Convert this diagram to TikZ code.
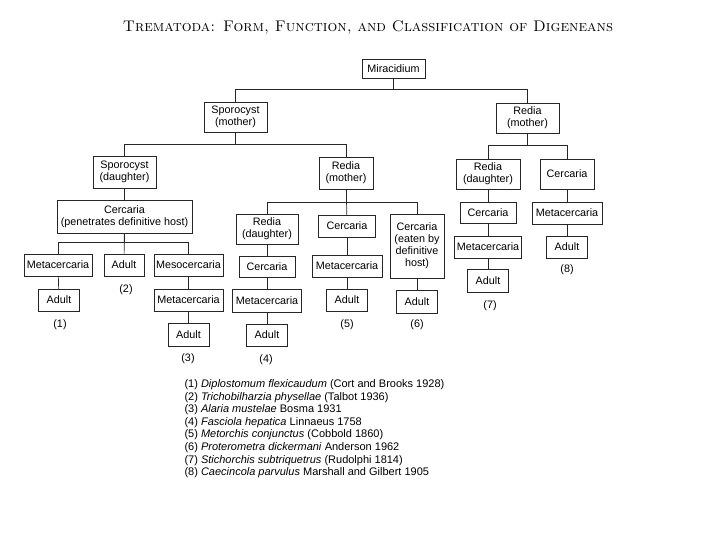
\documentclass[tikz,border=0pt]{standalone}
\usepackage{fontspec}
\setsansfont{Liberation Sans}
\usepackage{tikz}
\usepackage{xcolor}

\begin{document}
\begin{tikzpicture}[x=1pt,y=-1pt,line cap=round,
  box/.style={draw=black!85,line width=0.7pt,fill=white,inner sep=1pt,align=center,font=\sffamily\fontsize{10.8}{12}\selectfont},
  tag/.style={font=\sffamily\fontsize{10.8}{12}\selectfont},
  link/.style={black!85,line width=0.7pt}]
\useasboundingbox (0,0) rectangle (720,540);
\node[font=\fontsize{15.4}{17}\selectfont] (title) at (368,28) {\textsc{Trematoda: Form, Function, and Classification of Digeneans}};
\node[box,minimum width=63,minimum height=19] (mir) at (393.5,68.5) {Miracidium};
\node[box,minimum width=63,minimum height=30] (spm) at (235.5,117) {Sporocyst\\(mother)};
\node[box,minimum width=63,minimum height=30] (rdm) at (527.5,118) {Redia\\(mother)};
\node[box,minimum width=63,minimum height=32] (spd) at (124.5,172) {Sporocyst\\(daughter)};
\node[box,minimum width=54,minimum height=32] (rdmb) at (346,173) {Redia\\(mother)};
\node[box,minimum width=64,minimum height=30] (rdd) at (488,174) {Redia\\(daughter)};
\node[box,minimum width=54,minimum height=30] (cerh) at (567,174) {Cercaria};
\node[box,minimum width=135,minimum height=33] (cerp) at (124.5,216.5) {Cercaria\\(penetrates definitive host)};
\node[box,minimum width=68,minimum height=22] (metb) at (58,265) {Metacercaria};
\node[box,minimum width=40,minimum height=22] (adb) at (124,265) {Adult};
\node[box,minimum width=69,minimum height=22] (meso) at (188.5,265) {Mesocercaria};
\node[box,minimum width=41,minimum height=22] (ada) at (59,300) {Adult};
\node[box,minimum width=69,minimum height=22] (metc) at (188.5,300) {Metacercaria};
\node[box,minimum width=41,minimum height=23] (adc) at (188.5,334.5) {Adult};
\node[box,minimum width=62,minimum height=30] (rddd) at (267,229) {Redia\\(daughter)};
\node[box,minimum width=57,minimum height=22] (cere) at (347,226) {Cercaria};
\node[box,minimum width=54,minimum height=64] (cerf) at (417,246) {Cercaria\\(eaten by\\definitive\\host)};
\node[box,minimum width=56,minimum height=21] (cerd) at (267,266.5) {Cercaria};
\node[box,minimum width=70,minimum height=22] (mete) at (347,266) {Metacercaria};
\node[box,minimum width=69,minimum height=23] (metd) at (267,300.5) {Metacercaria};
\node[box,minimum width=41,minimum height=22] (add) at (267,335) {Adult};
\node[box,minimum width=41,minimum height=22] (ade) at (347,300) {Adult};
\node[box,minimum width=41,minimum height=23] (adf) at (417,301.5) {Adult};
\node[box,minimum width=56,minimum height=21] (cerg) at (488,212.5) {Cercaria};
\node[box,minimum width=67,minimum height=22] (metg) at (488,247) {Metacercaria};
\node[box,minimum width=41,minimum height=23] (adg) at (488,280.5) {Adult};
\node[box,minimum width=70,minimum height=22] (meth) at (567,213) {Metacercaria};
\node[box,minimum width=41,minimum height=22] (adh) at (567,247) {Adult};
\node[tag] (na) at (60,325) {(1)};
\node[tag] (nb) at (126,290) {(2)};
\node[tag] (nc) at (188,359) {(3)};
\node[tag] (nd) at (266,360) {(4)};
\node[tag] (ne) at (347,325) {(5)};
\node[tag] (nf) at (417,325) {(6)};
\node[tag] (ng) at (490,306) {(7)};
\node[tag] (nh) at (567,270) {(8)};
\draw[link] (mir.south) -- ++(0,11) -| (spm.north);
\draw[link] (mir.south) -- ++(0,11) -| (rdm.north);
\draw[link] (spm.south) -- ++(0,12) -| (spd.north);
\draw[link] (spm.south) -- ++(0,12) -| (rdmb.north);
\draw[link] (rdm.south) -- ++(0,12) -| (rdd.north);
\draw[link] (rdm.south) -- ++(0,12) -| (cerh.north);
\draw[link] (spd) -- (cerp);
\draw[link] (cerp.south) -- ++(0,9) -| (metb.north);
\draw[link] (cerp.south) -- ++(0,9) -| (meso.north);
\draw[link] (cerp) -- (adb);
\draw[link] (metb) -- (ada);
\draw[link] (meso) -- (metc) -- (adc);
\draw[link] (rdmb.south) -- ++(0,13) -| (rddd.north);
\draw[link] (rdmb.south) -- ++(0,13) -| (cerf.north);
\draw[link] (rdmb) -- (cere);
\draw[link] (rddd) -- (cerd) -- (metd) -- (add);
\draw[link] (cere) -- (mete) -- (ade);
\draw[link] (cerf) -- (adf);
\draw[link] (rdd) -- (cerg) -- (metg) -- (adg);
\draw[link] (cerh) -- (meth) -- (adh);
\node[anchor=north west,align=left,font=\sffamily\fontsize{11}{12.6}\selectfont] (key) at (181,376) {%
(1) \textit{Diplostomum flexicaudum} (Cort and Brooks 1928)\\
(2) \textit{Trichobilharzia physellae} (Talbot 1936)\\
(3) \textit{Alaria mustelae} Bosma 1931\\
(4) \textit{Fasciola hepatica} Linnaeus 1758\\
(5) \textit{Metorchis conjunctus} (Cobbold 1860)\\
(6) \textit{Proterometra dickermani} Anderson 1962\\
(7) \textit{Stichorchis subtriquetrus} (Rudolphi 1814)\\
(8) \textit{Caecincola parvulus} Marshall and Gilbert 1905};
\end{tikzpicture}
\end{document}
